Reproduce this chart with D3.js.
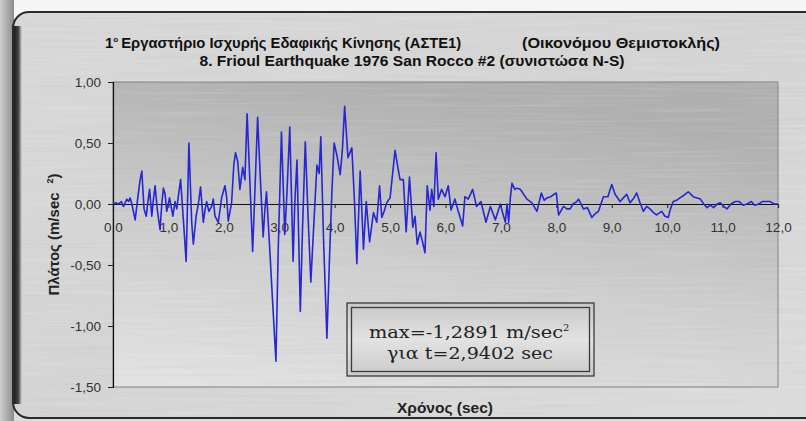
<!DOCTYPE html>
<html>
<head>
<meta charset="utf-8">
<script src="https://cdn.jsdelivr.net/npm/d3@7"></script>
<style>
  html, body { margin: 0; padding: 0; background: #e4e4e4; }
  svg { display: block; }
</style>
</head>
<body>
<svg id="chart" width="806" height="421"></svg>
<script>
// Accelerogram samples: time (sec) and acceleration (m/sec^2)
const timeSec = [
  0.00,0.05,0.10,0.15,0.19,0.25,0.28,0.31,0.34,0.40,0.45,0.49,0.52,0.56,0.60,0.63,0.66,0.70,0.73,0.76,
  0.80,0.85,0.88,0.91,0.94,0.97,1.02,1.05,1.08,1.12,1.15,1.19,1.22,1.27,1.32,1.37,1.42,1.45,1.50,1.54,
  1.58,1.63,1.66,1.69,1.73,1.78,1.81,1.84,1.90,1.96,2.02,2.05,2.08,2.14,2.18,2.21,2.25,2.29,2.34,2.38,
  2.42,2.46,2.52,2.56,2.61,2.66,2.71,2.74,2.77,2.82,2.88,2.9402,2.98,3.04,3.10,3.14,3.19,3.25,3.28,3.32,
  3.38,3.42,3.47,3.52,3.57,3.62,3.68,3.72,3.75,3.80,3.86,3.91,3.95,3.99,4.04,4.10,4.14,4.18,4.24,4.31,
  4.36,4.40,4.46,4.52,4.57,4.63,4.70,4.76,4.81,4.85,4.90,4.94,5.00,5.09,5.14,5.18,5.24,5.29,5.35,5.41,
  5.45,5.49,5.54,5.58,5.63,5.67,5.72,5.75,5.79,5.83,5.87,5.93,5.99,6.05,6.10,6.17,6.23,6.31,6.35,6.41,
  6.49,6.56,6.64,6.73,6.81,6.90,6.99,7.03,7.08,7.11,7.14,7.17,7.20,7.25,7.29,7.35,7.38,7.47,7.56,7.65,
  7.73,7.78,7.83,7.90,7.96,8.00,8.04,8.13,8.19,8.25,8.30,8.37,8.40,8.49,8.56,8.64,8.70,8.76,8.85,8.93,
  9.00,9.06,9.15,9.21,9.27,9.33,9.40,9.45,9.51,9.57,9.63,9.69,9.75,9.81,9.90,9.96,10.02,10.06,10.11,10.17,
  10.23,10.30,10.38,10.47,10.54,10.60,10.66,10.72,10.78,10.84,10.90,10.96,11.02,11.08,11.15,11.23,11.30,11.37,11.44,11.52,
  11.58,11.65,11.72,11.80,11.86,11.93,12.00
];
const accel = [
  0.00,0.01,0.00,0.02,-0.02,0.04,0.02,0.05,0.00,-0.13,0.06,0.20,0.27,-0.04,-0.10,0.02,0.12,-0.10,0.04,0.15,
  -0.05,-0.21,0.00,0.13,0.08,-0.06,0.05,-0.02,-0.10,0.02,-0.04,0.10,0.20,-0.13,-0.47,0.50,-0.15,-0.33,-0.10,0.00,
  0.14,-0.15,-0.05,0.02,-0.06,-0.02,0.04,-0.10,-0.15,0.05,0.15,0.06,-0.14,0.01,0.32,0.42,0.35,0.12,0.30,0.20,
  0.74,0.30,-0.39,0.10,0.71,0.20,-0.27,-0.05,0.10,-0.30,-0.80,-1.2891,-0.40,0.59,-0.25,0.10,0.63,-0.47,0.00,0.36,
  -0.88,-0.20,0.51,-0.10,-0.64,-0.20,0.32,0.25,0.55,-0.30,-1.10,-0.40,0.10,0.50,0.40,0.24,0.45,0.80,0.38,0.46,
  0.00,-0.49,0.27,-0.37,0.02,-0.31,-0.07,-0.15,0.15,-0.11,-0.05,0.01,0.05,0.44,0.30,0.20,0.20,-0.23,0.22,-0.19,
  -0.10,-0.33,-0.23,-0.30,-0.40,0.15,-0.05,0.12,-0.02,0.42,0.04,0.12,0.06,0.15,-0.05,0.04,-0.06,-0.18,0.06,0.04,
  0.12,-0.02,0.02,-0.15,-0.02,-0.13,0.00,-0.07,-0.15,0.00,-0.15,0.05,0.17,0.12,0.13,0.12,0.10,0.04,0.01,-0.06,
  0.09,0.03,0.05,0.06,0.08,0.09,-0.09,-0.02,-0.04,-0.04,0.00,0.02,0.04,-0.04,-0.03,-0.11,-0.08,-0.06,0.06,0.06,
  0.16,0.08,0.02,0.05,0.08,0.01,0.05,0.09,0.01,-0.06,-0.02,-0.04,-0.07,-0.09,-0.06,-0.10,-0.11,-0.04,0.02,0.03,
  0.05,0.07,0.10,0.06,0.05,0.04,0.00,-0.03,-0.01,-0.03,0.00,0.01,-0.02,-0.04,0.00,0.02,0.02,-0.01,0.00,0.02,
  -0.01,0.00,0.02,0.02,0.02,0.00,0.00
];
const xTicks = [0,1,2,3,4,5,6,7,8,9,10,11,12];
const yTicks = [-1.5,-1.0,-0.5,0,0.5,1.0];
const titleLeft = "Εργαστήριο Ισχυρής Εδαφικής Κίνησης (ΑΣΤΕ1)";
const titleRight = "(Οικονόμου Θεμιστοκλής)";
const subtitle = "8. Frioul Earthquake 1976 San Rocco #2 (συνιστώσα N-S)";
const xTitle = "Χρόνος (sec)";
const peakValue = -1.2891;
const peakTime = 2.9402;

const grLocale = d3.formatLocale({decimal: ",", thousands: ".", grouping: [3], currency: ["", "€"], minus: "-"});
const fmtY = grLocale.format(".2f");
const fmtX = grLocale.format(".1f");
const fmtPeak = grLocale.format(".4f");

const svg = d3.select("#chart");
const W = 806, H = 421;
const defs = svg.append("defs");

// brushed-metal streak texture (light and dark streaks)
function streaks(id, seed, matrix) {
  const f = defs.append("filter").attr("id", id)
    .attr("x", 0).attr("y", 0).attr("width", "100%").attr("height", "100%");
  f.append("feTurbulence").attr("type", "fractalNoise")
    .attr("baseFrequency", "0.008 0.4").attr("numOctaves", 2).attr("seed", seed);
  f.append("feColorMatrix").attr("type", "matrix").attr("values", matrix);
}
streaks("streakDark", 4, "0 0 0 0 0.35  0 0 0 0 0.35  0 0 0 0 0.35  1.2 0 0 0 -0.62");
streaks("streakLight", 9, "0 0 0 0 1  0 0 0 0 1  0 0 0 0 1  1.2 0 0 0 -0.6");

const outerGrad = defs.append("linearGradient").attr("id", "outerBg")
  .attr("x1", 0).attr("y1", 0).attr("x2", 0).attr("y2", 1);
outerGrad.append("stop").attr("offset", 0).attr("stop-color", "#f6f6f6");
outerGrad.append("stop").attr("offset", 1).attr("stop-color", "#dcdcdc");

const leftShade = defs.append("linearGradient").attr("id", "leftShade")
  .attr("x1", 0).attr("y1", 0).attr("x2", 1).attr("y2", 0);
leftShade.append("stop").attr("offset", 0).attr("stop-color", "#cfcfcf");
leftShade.append("stop").attr("offset", 1).attr("stop-color", "#8c8c8c");

const frameGrad = defs.append("linearGradient").attr("id", "frameBg")
  .attr("x1", 0).attr("y1", 0).attr("x2", 1).attr("y2", 1);
frameGrad.append("stop").attr("offset", 0).attr("stop-color", "#d8d8d8");
frameGrad.append("stop").attr("offset", 0.5).attr("stop-color", "#d4d4d4");
frameGrad.append("stop").attr("offset", 1).attr("stop-color", "#dcdcdc");

const frameEdge = defs.append("linearGradient").attr("id", "frameEdge")
  .attr("x1", 0).attr("y1", 0).attr("x2", 1).attr("y2", 0);
frameEdge.append("stop").attr("offset", 0).attr("stop-color", "#1c1c1c");
frameEdge.append("stop").attr("offset", 0.6).attr("stop-color", "#4a4a4a");
frameEdge.append("stop").attr("offset", 1).attr("stop-color", "#6a6a6a").attr("stop-opacity", 0);

const plotGrad = defs.append("linearGradient").attr("id", "plotBg")
  .attr("x1", 0.35).attr("y1", 0).attr("x2", 0.05).attr("y2", 1);
plotGrad.append("stop").attr("offset", 0).attr("stop-color", "#b0b0b0");
plotGrad.append("stop").attr("offset", 0.55).attr("stop-color", "#cfcfcf");
plotGrad.append("stop").attr("offset", 1).attr("stop-color", "#e2e2e2");

const boxGrad = defs.append("linearGradient").attr("id", "boxBg")
  .attr("x1", 0).attr("y1", 0).attr("x2", 0).attr("y2", 1);
boxGrad.append("stop").attr("offset", 0).attr("stop-color", "#c8c8c8");
boxGrad.append("stop").attr("offset", 0.5).attr("stop-color", "#e2e2e2");
boxGrad.append("stop").attr("offset", 1).attr("stop-color", "#cacaca");

// page background and outer shading
svg.append("rect").attr("width", W).attr("height", H).attr("fill", "url(#outerBg)");
svg.append("rect").attr("x", 0).attr("y", 0).attr("width", 14).attr("height", H).attr("fill", "url(#leftShade)");

// rounded chart frame
svg.append("rect").attr("x", 13).attr("y", 12).attr("width", 810).attr("height", 406)
  .attr("rx", 16).attr("fill", "url(#frameBg)").attr("stroke", "#2a2a2a").attr("stroke-width", 2);
svg.append("rect").attr("x", 14).attr("y", 26).attr("width", 8).attr("height", 378)
  .attr("fill", "url(#frameEdge)");

// plot area
const x = d3.scaleLinear().domain([0, 12]).range([113, 778]);
const y = d3.scaleLinear().domain([-1.5, 1]).range([387, 82]);

svg.append("rect").attr("x", x(0)).attr("y", y(1)).attr("width", x(12) - x(0)).attr("height", y(-1.5) - y(1))
  .attr("fill", "url(#plotBg)").attr("stroke", "#808080").attr("stroke-width", 1);

// streak texture over the frame
svg.append("rect").attr("x", 22).attr("y", 14).attr("width", 784).attr("height", 402)
  .attr("filter", "url(#streakDark)").attr("opacity", 0.22);
svg.append("rect").attr("x", 22).attr("y", 14).attr("width", 784).attr("height", 402)
  .attr("filter", "url(#streakLight)").attr("opacity", 0.3);

const sans = "Arial, 'Liberation Sans', sans-serif";

// y axis
const yAxis = svg.append("g").attr("transform", `translate(${x(0)},0)`)
  .call(d3.axisLeft(y).tickValues(yTicks).tickSize(5).tickPadding(7).tickFormat(fmtY));
yAxis.select(".domain").attr("stroke", "#111").attr("stroke-width", 1.2);
yAxis.selectAll(".tick line").attr("stroke", "#222");
yAxis.selectAll("text").attr("font-family", sans).attr("font-size", 13.5).attr("fill", "#333");

// x axis along zero line
const xAxis = svg.append("g").attr("transform", `translate(0,${y(0)})`)
  .call(d3.axisBottom(x).tickValues(xTicks).tickSize(4).tickPadding(14).tickFormat(fmtX));
xAxis.select(".domain").attr("stroke", "#111").attr("stroke-width", 1.2);
xAxis.selectAll(".tick line").attr("stroke", "#222");
xAxis.selectAll("text").attr("font-family", sans).attr("font-size", 13.5).attr("fill", "#333");

// time series
const pts = timeSec.map((t, i) => [t, accel[i]]);
svg.append("path").datum(pts)
  .attr("fill", "none").attr("stroke", "#2626d4").attr("stroke-width", 1.6)
  .attr("stroke-linejoin", "round")
  .attr("d", d3.line().x(d => x(d[0])).y(d => y(d[1])));

// titles
const narrow = "'Liberation Sans Narrow', 'Arial Narrow', 'Liberation Sans', Arial, sans-serif";
const t1 = svg.append("text").attr("x", 105).attr("y", 48)
  .attr("font-family", narrow).attr("font-weight", "bold").attr("font-size", 15).attr("fill", "#111");
t1.append("tspan").text("1");
t1.append("tspan").attr("font-size", 8).attr("dy", -6).text("ο");
t1.append("tspan").attr("dy", 6).attr("dx", 3)
  .attr("textLength", 340).attr("lengthAdjust", "spacingAndGlyphs").text(titleLeft);
svg.append("text").attr("x", 720).attr("y", 48).attr("text-anchor", "end")
  .attr("font-family", narrow).attr("font-weight", "bold").attr("font-size", 15).attr("fill", "#111")
  .attr("textLength", 198).attr("lengthAdjust", "spacingAndGlyphs").text(titleRight);
svg.append("text").attr("x", 412).attr("y", 66).attr("text-anchor", "middle")
  .attr("font-family", narrow).attr("font-weight", "bold").attr("font-size", 15).attr("fill", "#111")
  .attr("textLength", 425).attr("lengthAdjust", "spacingAndGlyphs").text(subtitle);

// axis titles
const yt = svg.append("text").attr("transform", `translate(59,${(y(1) + y(-1.5)) / 2}) rotate(-90)`)
  .attr("text-anchor", "middle").attr("font-family", sans)
  .attr("font-weight", "bold").attr("font-size", 15).attr("fill", "#222");
yt.append("tspan").text("Πλάτος (m/sec");
yt.append("tspan").attr("dx", 9).attr("dy", -6).attr("font-size", 9).text("2");
yt.append("tspan").attr("dy", 6).text(")");

svg.append("text").attr("x", 445).attr("y", 413).attr("text-anchor", "middle")
  .attr("font-family", sans).attr("font-weight", "bold")
  .attr("font-size", 15.5).attr("fill", "#222").text(xTitle);

// peak annotation box
svg.append("rect").attr("x", 347).attr("y", 303).attr("width", 247).attr("height", 73)
  .attr("fill", "url(#boxBg)").attr("stroke", "#3a3a3a").attr("stroke-width", 1.3);
svg.append("rect").attr("x", 351.5).attr("y", 307.5).attr("width", 238).attr("height", 64)
  .attr("fill", "none").attr("stroke", "#3a3a3a").attr("stroke-width", 1.3);
const serif = "Georgia, 'DejaVu Serif', 'Liberation Serif', serif";
const a1 = svg.append("text").attr("x", 369).attr("y", 338)
  .attr("font-family", serif).attr("font-size", 17).attr("fill", "#222");
a1.append("tspan").attr("textLength", 194).attr("lengthAdjust", "spacingAndGlyphs")
  .text(`max=${fmtPeak(peakValue)} m/sec`);
a1.append("tspan").attr("dy", -7).attr("font-size", 10).text("2");
svg.append("text").attr("x", 387).attr("y", 359)
  .attr("font-family", serif).attr("font-size", 17).attr("fill", "#222")
  .attr("textLength", 166).attr("lengthAdjust", "spacingAndGlyphs")
  .text(`για t=${fmtPeak(peakTime)} sec`);
</script>
</body>
</html>
